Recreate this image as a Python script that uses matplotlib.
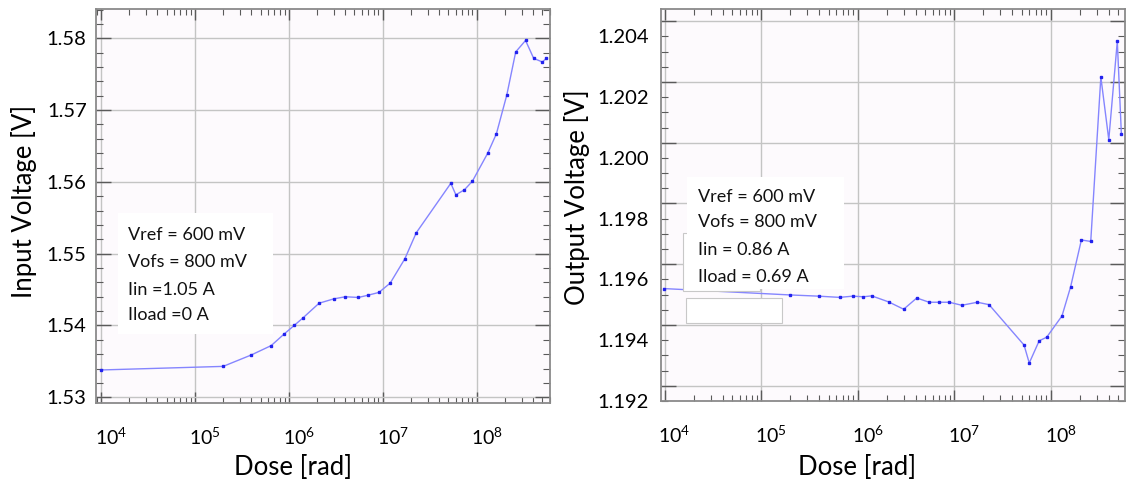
import matplotlib
matplotlib.use('Agg')
import matplotlib.pyplot as plt
import numpy as np
from matplotlib.ticker import LogLocator, MultipleLocator, FixedLocator, NullFormatter, LogFormatterSciNotation
from matplotlib.patches import Rectangle
from matplotlib.transforms import ScaledTranslation

plt.rcParams['font.family'] = ['Lato', 'DejaVu Sans']
plt.rcParams['mathtext.fontset'] = 'custom'
plt.rcParams['mathtext.rm'] = 'Lato'
plt.rcParams['mathtext.default'] = 'regular'

# input voltage vs dose (left panel)
dose_in = [1.0e4, 2.0e5, 4.0e5, 6.5e5, 8.9e5, 1.14e6, 1.4e6, 2.1e6, 3.0e6, 4.0e6,
           5.5e6, 6.9e6, 9.1e6, 1.2e7, 1.72e7, 2.27e7, 5.3e7, 6.0e7, 7.4e7, 9.0e7,
           1.31e8, 1.62e8, 2.09e8, 2.6e8, 3.31e8, 4.04e8, 5.0e8, 5.5e8]
v_in = [1.5338, 1.5343, 1.5359, 1.5372, 1.5388, 1.5400, 1.5410, 1.5431, 1.5437, 1.5440,
        1.5439, 1.5442, 1.5446, 1.5459, 1.5493, 1.5529, 1.5598, 1.5582, 1.5589, 1.5601,
        1.5640, 1.5667, 1.5721, 1.5781, 1.5797, 1.5772, 1.5767, 1.5772]

# output voltage vs dose (right panel)
dose_out = [9.8e3, 2.0e5, 3.95e5, 6.5e5, 8.9e5, 1.15e6, 1.4e6, 2.1e6, 3.0e6, 4.1e6,
            5.5e6, 7.0e6, 8.9e6, 1.2e7, 1.74e7, 2.3e7, 5.3e7, 6.0e7, 7.6e7, 9.1e7,
            1.31e8, 1.61e8, 2.08e8, 2.6e8, 3.31e8, 4.0e8, 4.9e8, 5.4e8]
v_out = [1.19570, 1.19549, 1.19545, 1.19541, 1.19545, 1.19543, 1.19546, 1.19526, 1.19502, 1.19539,
         1.19525, 1.19525, 1.19525, 1.19515, 1.19525, 1.19517, 1.19384, 1.19325, 1.19398, 1.19410,
         1.19480, 1.19576, 1.19730, 1.19725, 1.20266, 1.20060, 1.20384, 1.20079]

notes_in = ['Vref = 600 mV', 'Vofs = 800 mV', 'Iin =1.05 A', 'Iload =0 A']
notes_out = ['Vref = 600 mV', 'Vofs = 800 mV', 'Iin = 0.86 A', 'Iload = 0.69 A']

yticks_in = [1.53, 1.54, 1.55, 1.56, 1.57, 1.58]
yticks_out = [1.192, 1.194, 1.196, 1.198, 1.200, 1.202, 1.204]
ygrid_out = [1.1925, 1.1945, 1.1965, 1.1985, 1.2005, 1.2025, 1.2045]

line_col = '#8585ff'
dot_col = '#2222ee'
grid_col = '#c4c4c4'
spine_col = '#8a8a8a'
tick_col = '#5a5a5a'

fig = plt.figure(figsize=(11.27, 4.88), dpi=100)
W, H = 1127, 488


def px_axes(x0, x1, ytop, ybot):
    return fig.add_axes([x0 / W, 1 - ybot / H, (x1 - x0) / W, (ybot - ytop) / H])


def style_axes(ax, xl):
    ax.set_facecolor('#fdfafd')
    ax.set_xscale('log')
    ax.set_xlim(xl)
    ax.xaxis.set_major_locator(FixedLocator([1e4, 1e5, 1e6, 1e7, 1e8]))
    ax.xaxis.set_major_formatter(LogFormatterSciNotation())
    ax.xaxis.set_minor_locator(LogLocator(base=10, subs=np.arange(2, 10), numticks=20))
    ax.xaxis.set_minor_formatter(NullFormatter())
    ax.tick_params(axis='both', which='both', direction='in', top=True, right=True, color=tick_col)
    ax.tick_params(axis='x', which='major', length=8, width=1, labelsize=14, pad=17)
    ax.tick_params(axis='x', which='minor', length=4, width=0.8)
    ax.tick_params(axis='y', which='major', length=11, width=1)
    ax.tick_params(axis='y', which='minor', length=5, width=0.8)
    for s in ax.spines.values():
        s.set_color(spine_col)
        s.set_linewidth(1.3)
    ax.grid(True, which='major', axis='x', color=grid_col, lw=1.0, zorder=0)
    for lab in ax.get_xticklabels():
        lab.set_transform(lab.get_transform() + ScaledTranslation(0.10, 0, fig.dpi_scale_trans))
    ax.set_xlabel('Dose [rad]', fontsize=18.5)


def add_notes(ax, box, lines, tx, ty):
    x0, x1, y0, y1 = box
    ax.add_patch(Rectangle((x0, y0), x1 - x0, y1 - y0, transform=ax.transAxes,
                           facecolor='white', edgecolor='none', zorder=4))
    for t, yy in zip(lines, ty):
        ax.text(tx, yy, t, transform=ax.transAxes, fontsize=13, va='center', ha='left',
                color='#111111', zorder=5)


# ---- left panel ----
ax1 = px_axes(96.4, 550, 8.5, 403)
style_axes(ax1, (10 ** 3.952, 10 ** 8.78))
ax1.set_ylim(1.5292, 1.58415)
ax1.yaxis.set_major_locator(FixedLocator(yticks_in))
ax1.yaxis.set_minor_locator(MultipleLocator(0.002))
ax1.tick_params(axis='y', which='major', labelsize=14.5, pad=7)
ax1.grid(True, which='major', axis='y', color=grid_col, lw=1.0, zorder=0)
ax1.plot(dose_in, v_in, color=line_col, lw=1.0, zorder=3)
ax1.plot(dose_in, v_in, 's', color=dot_col, ms=2, zorder=3)
add_notes(ax1, (0.048, 0.389, 0.175, 0.482), notes_in, 0.070, [0.426, 0.357, 0.286, 0.223])
ax1.set_ylabel('Input Voltage [V]', fontsize=18.5)
ax1.yaxis.set_label_coords(-0.132, 0.511)
ax1.xaxis.set_label_coords(0.433, -0.132)

# ---- right panel ----
ax2 = px_axes(661, 1125, 9, 401)
style_axes(ax2, (10 ** 3.963, 10 ** 8.77))
ax2.set_ylim(1.1920, 1.2049)
ax2.yaxis.set_major_locator(FixedLocator(ygrid_out))
ax2.yaxis.set_major_formatter(NullFormatter())
ax2.yaxis.set_minor_locator(MultipleLocator(0.0005))
ax2.grid(True, which='major', axis='y', color=grid_col, lw=1.0, zorder=0)
# tick labels sit between the grid lines in the original, so they get their own axis
sec = ax2.secondary_yaxis('left')
sec.yaxis.set_major_locator(FixedLocator(yticks_out))
sec.yaxis.set_major_formatter(plt.FuncFormatter(lambda v, p: '%.3f' % v))
sec.tick_params(axis='y', length=0, labelsize=14.5, pad=9)
sec.spines['left'].set_visible(False)
ax2.plot(dose_out, v_out, color=line_col, lw=1.0, zorder=3)
ax2.plot(dose_out, v_out, 's', color=dot_col, ms=2, zorder=3)
# faint leftover boxes from the original figure
ax2.add_patch(Rectangle((0.047, 0.281), 0.166, 0.148, transform=ax2.transAxes,
                        facecolor='white', edgecolor='#c8c8c8', lw=0.8, zorder=3.5))
ax2.add_patch(Rectangle((0.054, 0.199), 0.207, 0.064, transform=ax2.transAxes,
                        facecolor='white', edgecolor='#c8c8c8', lw=0.8, zorder=3.5))
add_notes(ax2, (0.056, 0.394, 0.285, 0.571), notes_out, 0.080, [0.520, 0.457, 0.385, 0.316])
ax2.set_ylabel('Output Voltage [V]', fontsize=18.5)
ax2.yaxis.set_label_coords(-0.153, 0.519)
ax2.xaxis.set_label_coords(0.422, -0.138)

fig.savefig('out.png', dpi=100)
